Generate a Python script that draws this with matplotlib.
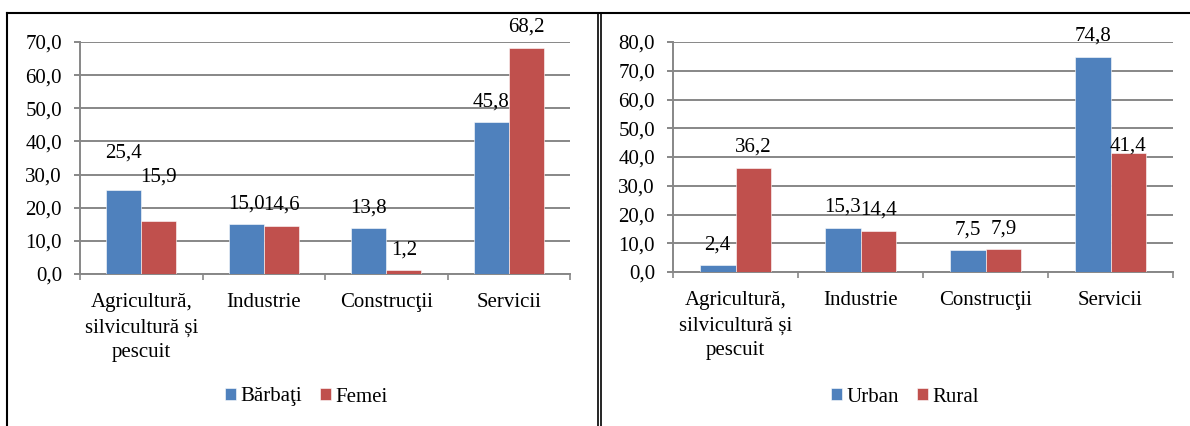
import numpy as np
import matplotlib
matplotlib.use("Agg")
from matplotlib import pyplot as plt
from matplotlib.lines import Line2D

# data
categories = ["Agricultură,\nsilvicultură și\npescuit", "Industrie", "Construcţii", "Servicii"]
barbati = [25.4, 15.0, 13.8, 45.8]
femei = [15.9, 14.6, 1.2, 68.2]
urban = [2.4, 15.3, 7.5, 74.8]
rural = [36.2, 14.4, 7.9, 41.4]
left_names = ["Bărbaţi", "Femei"]
right_names = ["Urban", "Rural"]

BLUE = "#4F81BD"
RED = "#C0504D"
GRID = "#878787"
FS = 15

# labels that were moved by hand in the original (extra offset, points)
LEFT_NUDGE = {(0, 0): 11.5, (1, 0): 17}
RIGHT_NUDGE = {(1, 3): -10}

plt.rcParams["font.family"] = ["Liberation Serif", "DejaVu Serif"]
plt.rcParams["font.size"] = FS

W, H = 1190, 426
fig = plt.figure(figsize=(W / 100, H / 100), dpi=100)


def px_ax(x0, x1, ytop, ybot):
  return fig.add_axes([x0 / W, 1 - ybot / H, (x1 - x0) / W, (ybot - ytop) / H])


def draw_panel(ax, s1, s2, ymax, nudge):
  x = np.arange(len(categories))
  w = 1 / 3.5
  b1 = ax.bar(x - w / 2, s1, w, color=BLUE, edgecolor="white", linewidth=0.4, zorder=3)
  b2 = ax.bar(x + w / 2, s2, w, color=RED, edgecolor="white", linewidth=0.4, zorder=3)
  for si, (bars, vals) in enumerate(((b1, s1), (b2, s2))):
    for ci, (r, v) in enumerate(zip(bars, vals)):
      dy = 11.5 + nudge.get((si, ci), 0)
      ax.annotate(f"{v:.1f}".replace(".", ","), (r.get_x() + r.get_width() / 2, v),
                  xytext=(0, dy), textcoords="offset points",
                  ha="center", va="baseline", fontsize=FS, annotation_clip=False, zorder=5)
  ax.set_xlim(-0.5, len(categories) - 0.5)
  ax.set_ylim(0, ymax)
  yt = np.arange(0, ymax + 1, 10)
  ax.set_yticks(yt)
  ax.set_yticklabels([f"{v:.1f}".replace(".", ",") for v in yt])
  ax.yaxis.grid(True, color=GRID, linewidth=1.4, zorder=0)
  ax.set_axisbelow(True)
  ax.set_xticks(np.arange(-0.5, len(categories)))
  ax.set_xticklabels([])
  ax.set_xticks(x, minor=True)
  ax.set_xticklabels(categories, minor=True, linespacing=1.42)
  ax.tick_params(axis="x", which="major", direction="out", length=4.3, width=1.2, color=GRID)
  ax.tick_params(axis="x", which="minor", length=0, pad=14)
  ax.tick_params(axis="y", direction="out", length=4.5, width=1.4, color=GRID, pad=8.5)
  for s in ("top", "right"):
    ax.spines[s].set_visible(False)
  for s in ("left", "bottom"):
    ax.spines[s].set_color(GRID)
    ax.spines[s].set_linewidth(1.4)
  return b1, b2


ax1 = px_ax(80, 570, 42, 274)
h1 = draw_panel(ax1, barbati, femei, 70, LEFT_NUDGE)
ax2 = px_ax(673, 1173, 42, 272)
h2 = draw_panel(ax2, urban, rural, 80, RIGHT_NUDGE)

leg_kw = dict(loc="center", ncol=2, frameon=False, fontsize=FS, handlelength=0.55,
              handleheight=0.55, handletextpad=0.2, columnspacing=0.85)
fig.legend(h1, left_names, bbox_to_anchor=(306 / W, 1 - 397 / H), **leg_kw)
fig.legend(h2, right_names, bbox_to_anchor=(905 / W, 1 - 397 / H), **leg_kw)

# panel frames
def fline(xs, ys, lw):
  fig.add_artist(Line2D([v / W for v in xs], [1 - v / H for v in ys], color="black",
                        linewidth=lw, transform=fig.transFigure))

fline([7, 7], [13, H], 1.5)
fline([7, W], [13, 13], 1.5)
fline([597.5, 597.5], [13, H], 1.2)
fline([600.5, 600.5], [13, H], 1.2)

fig.savefig("out.png", dpi=100)
